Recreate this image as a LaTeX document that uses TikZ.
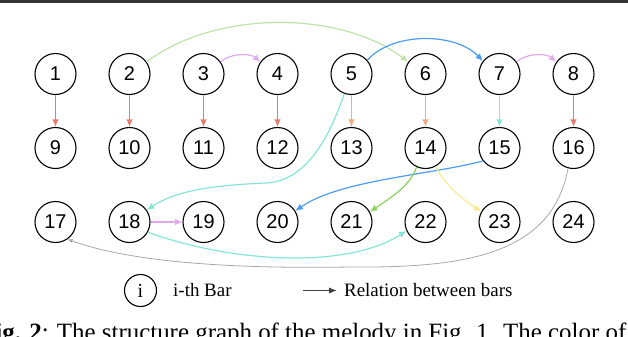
\documentclass[tikz,border=0pt]{standalone}
\usepackage{fontspec}
\setmainfont{Liberation Serif}
\setsansfont{Liberation Sans}
\usetikzlibrary{arrows.meta}
\definecolor{relred}{HTML}{E9796B}
\definecolor{relorange}{HTML}{F2AC82}
\definecolor{relpink}{HTML}{E2A8EE}
\definecolor{relsage}{HTML}{BCE3A8}
\definecolor{relblue}{HTML}{4A9DF2}
\definecolor{relteal}{HTML}{86E6D6}
\definecolor{relgreen}{HTML}{8AD35A}
\definecolor{relyellow}{HTML}{F9EA8E}
\definecolor{relgray}{HTML}{A8A8A8}
\begin{document}
\begin{tikzpicture}[x=1bp,y=-1bp,>={Latex[length=7.5bp,width=6.5bp]},
  bar/.style={circle,draw,line width=1.1bp,minimum size=41bp,inner sep=0pt,font=\sffamily\fontsize{20}{20}\selectfont},
  rel/.style={->,line width=1.2bp}]
\clip (0,0) rectangle (628,336);
\draw[line width=2.6bp,black!80] (0,1.3)--(628,1.3);
% bars
\foreach \i in {1,...,24}{
  \pgfmathtruncatemacro\c{mod(\i-1,8)}
  \pgfmathtruncatemacro\r{(\i-1)/8}
  \node[bar] (n\i) at (55.5+74*\c,74+74*\r) {\i};}
% relations
\foreach \a/\b in {1/9,8/16}{\draw[rel,relred,line width=1.6bp] (n\a)--(n\b);}
\foreach \a/\b in {2/10,3/11,4/12}{\draw[rel,relred] (n\a)--(n\b);}
\foreach \a/\b in {5/13,6/14}{\draw[rel,relorange] (n\a)--(n\b);}
\draw[rel,relteal] (n7)--(n15);
\draw[rel,relpink] (n18)--(n19);
\draw[rel,relpink] (n3.35) .. controls (230,53) and (250,53) .. (n4.145);
\draw[rel,relpink] (n7.35) .. controls (526,53) and (546,53) .. (n8.145);
\draw[rel,relsage] (n2.35) .. controls (215,10) and (340,10) .. (n6.145);
\draw[rel,relblue] (n5.41) .. controls (392,32) and (455,32) .. (n7.142);
\draw[rel,relteal] (n5.250) .. controls (325,150) and (300,182) .. (265,183)
  .. controls (225,185) and (180,188) .. (n18.35);
\draw[rel,relblue] (n15.218) .. controls (430,175) and (340,180) .. (n20.32);
\draw[rel,relgreen] (n14.245) .. controls (410,185) and (395,195) .. (n21.29);
\draw[rel,relyellow] (n14.299) .. controls (443,182) and (460,198) .. (n23.150);
\draw[rel,relteal] (n18.331) .. controls (230,262) and (345,270) .. (n22.205);
\draw[->,relgray,line width=0.8bp,>={Latex[length=5bp,width=4bp]}] (n16.255)
  .. controls (552,255) and (465,268) .. (350,267)
  .. controls (230,269) and (130,262) .. (n17.305);
% legend
\node[circle,draw,line width=1.1bp,minimum size=32bp,inner sep=0pt,font=\fontsize{20}{20}\selectfont] (key) at (140.5,290.5) {i};
\node[anchor=west,inner sep=0pt,font=\fontsize{19}{19}\selectfont] (keytext) at (173,290.5) {i-th Bar};
\coordinate (ka) at (303,290.5);
\coordinate (kb) at (337,290.5);
\draw[->,black!75,line width=1.7bp,>={Latex[length=8bp,width=6.5bp]}] (ka)--(kb);
\node[anchor=west,inner sep=0pt,font=\fontsize{19}{19}\selectfont] (reltext) at (344,290.5) {Relation between bars};
% caption
\node[anchor=base west,inner sep=0pt,font=\fontsize{25}{25}\selectfont] (caption) at (-20,340) {\textbf{Fig. 2}: The structure graph of the melody in Fig. 1. The color of the};
\end{tikzpicture}
\end{document}
